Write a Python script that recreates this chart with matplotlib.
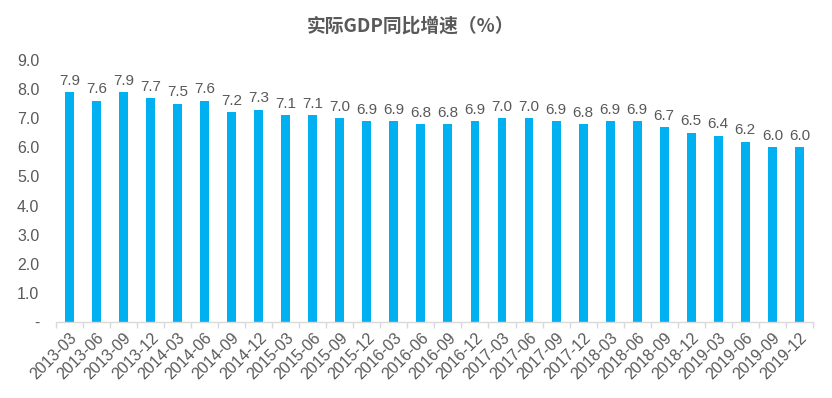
import numpy as np
import matplotlib.pyplot as plt

plt.rcParams['font.family'] = ['Liberation Sans', 'Noto Sans CJK SC', 'DejaVu Sans']

# Quarterly real GDP growth, year on year (%)
quarters = ['2013-03', '2013-06', '2013-09', '2013-12',
            '2014-03', '2014-06', '2014-09', '2014-12',
            '2015-03', '2015-06', '2015-09', '2015-12',
            '2016-03', '2016-06', '2016-09', '2016-12',
            '2017-03', '2017-06', '2017-09', '2017-12',
            '2018-03', '2018-06', '2018-09', '2018-12',
            '2019-03', '2019-06', '2019-09', '2019-12']
gdp_growth = [7.9, 7.6, 7.9, 7.7,
              7.5, 7.6, 7.2, 7.3,
              7.1, 7.1, 7.0, 6.9,
              6.9, 6.8, 6.8, 6.9,
              7.0, 7.0, 6.9, 6.8,
              6.9, 6.9, 6.7, 6.5,
              6.4, 6.2, 6.0, 6.0]

bar_color = '#00B0F0'
text_color = '#595959'

fig = plt.figure(figsize=(8.32, 3.98), dpi=100)
ax = fig.add_axes([0.0673, 0.191, 0.9097, 0.658])

x = np.arange(len(quarters))
bars = ax.bar(x, gdp_growth, width=0.33, color=bar_color)

for xi, v in zip(x, gdp_growth):
    ax.text(xi, v + 0.15, f'{v:.1f}', ha='center', va='bottom',
            fontsize=11, color=text_color)

ax.set_xlim(-0.5, len(quarters) - 0.5)
ax.set_ylim(0, 9)
ax.set_yticks(np.arange(0, 9.1, 1.0))
ax.set_yticklabels(['-'] + [f'{v:.1f}' for v in np.arange(1, 9.1, 1.0)],
                   fontsize=11.5, color=text_color)

ax.set_xticks(x)
ax.set_xticklabels(quarters, rotation=45, ha='right', rotation_mode='anchor',
                   fontsize=11.5, color=text_color)
ax.tick_params(axis='x', length=0, pad=6)
ax.tick_params(axis='y', length=0, pad=12)

# small boundary ticks between categories
ax.set_xticks(np.arange(-0.5, len(quarters), 1.0), minor=True)
ax.tick_params(axis='x', which='minor', length=4, color='#d9d9d9', width=1)

for side in ['top', 'right', 'left']:
    ax.spines[side].set_visible(False)
ax.spines['bottom'].set_color('#d9d9d9')
ax.spines['bottom'].set_linewidth(1)

fig.text(0.493, 0.935, '实际GDP同比增速（%）', ha='center', va='center',
         fontsize=13.5, fontweight='bold', color=text_color,
         family=['Noto Sans CJK SC', 'Liberation Sans'])

fig.savefig('out.png', dpi=100)
